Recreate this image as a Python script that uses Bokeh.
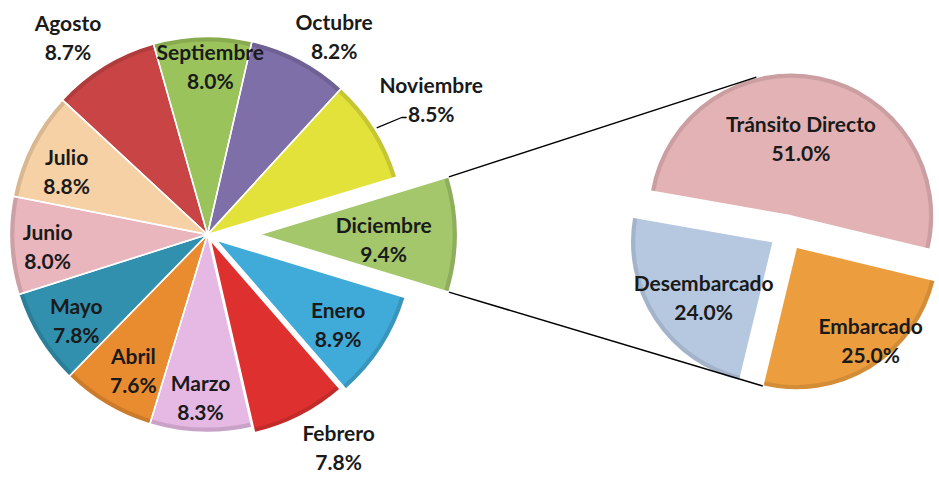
import numpy as np
from bokeh.plotting import figure
from bokeh.models import Range1d, ColumnDataSource
from bokeh.embed import file_html
from bokeh.resources import INLINE
from bokeh.core.properties import value

# ---------------- data ----------------
months = ["Enero", "Febrero", "Marzo", "Abril", "Mayo", "Junio", "Julio",
          "Agosto", "Septiembre", "Octubre", "Noviembre", "Diciembre"]
month_pct = [8.9, 7.8, 8.3, 7.6, 7.8, 8.0, 8.8, 8.7, 8.0, 8.2, 8.5, 9.4]
month_colors = ["#40ABD8", "#DF3030", "#E6B9E4", "#E98C30", "#3090AE", "#EAB6BE",
                "#F7D1A6", "#C94545", "#9BC35B", "#7F6FA8", "#E2E23A", "#A3C76A"]

types = ["Desembarcado", "Embarcado", "Tránsito Directo"]
type_pct = [24.0, 25.0, 51.0]
type_colors = ["#B6C8E0", "#EC9D3E", "#E3B2B4"]

# ---------------- layout (pixel space, y flipped) ----------------
W, H = 939, 477
def Y(py):
    return H - py

c1 = np.array([207.0, Y(234)])   # main pie centre
r1 = 198.0
explode1 = [10, 6, 0, 0, 0, 0, 0, 0, 0, 0, 0, 52]
lab_k1 = [0.80, 1.26, 0.82, 0.78, 0.79, 0.81, 0.78, 1.22, 0.85, 1.19, 1.32, 0.89]
lab_d1 = [-1.5, 4.7, -0.5, 1.9, 1.3, 1.0, 2.8, 3.8, -2.4, -4.8, -1.1, -1.6]

c2 = np.array([787.0, Y(232)])   # secondary pie centre
r2 = 143.0
explode2 = [17, 17, 17]
start2 = np.deg2rad(170.0)
lab_k2 = [0.62, 0.83, 0.55]
lab_d2 = [5.0, 7.3, 4.5]

font = value("Lato")
fsize = "21px"
tcolor = "#1A1A1A"
line_h = 14.5
rim = 5.0

p = figure(width=W, height=H, x_range=Range1d(0, W), y_range=Range1d(0, H),
           output_backend="svg", toolbar_location=None, min_border=0,
           x_axis_type=None, y_axis_type=None, outline_line_color=None)
p.grid.visible = False
p.background_fill_color = "white"
p.border_fill_color = "white"

# ---------------- main pie ----------------
pct = np.array(month_pct)
span = np.deg2rad(pct * 3.6)
dic_half = span[-1] / 2
cum = np.concatenate([[0], np.cumsum(span)[:-1]])
hi = -dic_half - cum           # clockwise from the lower edge of Diciembre
lo = hi - span
mid = (hi + lo) / 2
ex = np.array(explode1, float)
ax = c1[0] + ex * np.cos(mid)
ay = c1[1] + ex * np.sin(mid)

src1 = ColumnDataSource(dict(x=ax, y=ay, s=lo, e=hi, color=month_colors))
p.wedge(x="x", y="y", radius=r1, start_angle="s", end_angle="e", source=src1,
        fill_color="color", line_color=None, direction="anticlock")
p.annular_wedge(x="x", y="y", inner_radius=r1 - rim, outer_radius=r1, start_angle="s",
                end_angle="e", source=src1, fill_color="black", fill_alpha=0.12,
                line_color=None, direction="anticlock")
p.wedge(x="x", y="y", radius=r1, start_angle="s", end_angle="e", source=src1,
        fill_color=None, line_color="white", line_width=1.5, direction="anticlock")

ang = mid + np.deg2rad(lab_d1)
lx = c1[0] + np.array(lab_k1) * r1 * np.cos(ang)
ly = c1[1] + np.array(lab_k1) * r1 * np.sin(ang)
vals1 = [f"{v:.1f}%" for v in month_pct]
p.text(x=lx, y=ly + line_h, text=months, text_align="center", text_baseline="middle",
       text_font=font, text_font_style="bold", text_font_size=fsize, text_color=tcolor)
p.text(x=lx, y=ly - line_h, text=vals1, text_align="center", text_baseline="middle",
       text_font=font, text_font_style="bold", text_font_size=fsize, text_color=tcolor)

# leader line for Noviembre
i_nov = months.index("Noviembre")
a = mid[i_nov]
x_end = c1[0] + 1.145 * r1 * np.cos(a - 0.02)
y_end = c1[1] + 1.145 * r1 * np.sin(a - 0.02)
p.line([c1[0] + 1.01 * r1 * np.cos(a), x_end, x_end + 5],
       [c1[1] + 1.01 * r1 * np.sin(a), y_end, y_end],
       line_color="black", line_width=1.3)

# ---------------- secondary pie ----------------
tp = np.array(type_pct)
span2 = np.deg2rad(tp * 3.6)
lo2 = start2 + np.concatenate([[0], np.cumsum(span2)[:-1]])
hi2 = lo2 + span2
mid2 = (lo2 + hi2) / 2
ex2 = np.array(explode2, float)
bx = c2[0] + ex2 * np.cos(mid2)
by = c2[1] + ex2 * np.sin(mid2)
src2 = ColumnDataSource(dict(x=bx, y=by, s=lo2, e=hi2, color=type_colors))
p.wedge(x="x", y="y", radius=r2, start_angle="s", end_angle="e", source=src2,
        fill_color="color", line_color=None, direction="anticlock")
p.annular_wedge(x="x", y="y", inner_radius=r2 - rim, outer_radius=r2, start_angle="s",
                end_angle="e", source=src2, fill_color="black", fill_alpha=0.10,
                line_color=None, direction="anticlock")
p.wedge(x="x", y="y", radius=r2, start_angle="s", end_angle="e", source=src2,
        fill_color=None, line_color="white", line_width=1.5, direction="anticlock")

ang2 = mid2 + np.deg2rad(lab_d2)
lx2 = bx + np.array(lab_k2) * r2 * np.cos(ang2)
ly2 = by + np.array(lab_k2) * r2 * np.sin(ang2)
p.text(x=lx2, y=ly2 + line_h, text=types, text_align="center", text_baseline="middle",
       text_font=font, text_font_style="bold", text_font_size=fsize, text_color=tcolor)
p.text(x=lx2, y=ly2 - line_h, text=[f"{v:.1f}%" for v in type_pct], text_align="center",
       text_baseline="middle", text_font=font, text_font_style="bold",
       text_font_size=fsize, text_color=tcolor)

# ---------------- connector lines ----------------
i_dic = len(months) - 1
dx0, dy0 = ax[i_dic], ay[i_dic]
top_a = np.deg2rad(104.0)
i_tr = types.index("Tránsito Directo")
i_em = types.index("Embarcado")
p.line([dx0 + r1 * np.cos(hi[i_dic] + 2 * np.pi), bx[i_tr] + r2 * np.cos(top_a)],
       [dy0 + r1 * np.sin(hi[i_dic] + 2 * np.pi), by[i_tr] + r2 * np.sin(top_a)],
       line_color="black", line_width=1.5)
p.line([dx0 + r1 * np.cos(lo[i_dic]), bx[i_em] + r2 * np.cos(lo2[i_em])],
       [dy0 + r1 * np.sin(lo[i_dic]), by[i_em] + r2 * np.sin(lo2[i_em])],
       line_color="black", line_width=1.5)

open("out.html", "w").write(file_html(p, INLINE))
